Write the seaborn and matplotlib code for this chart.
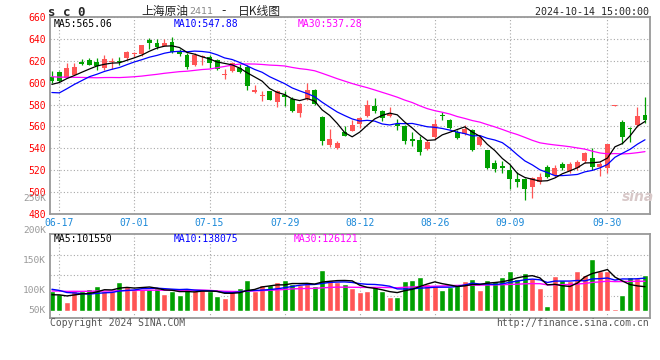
# -*- coding: utf-8 -*-
"""
SC crude oil (2411) daily K-line chart with volume panel, sina style
"""

import numpy as np
import pandas as pd
import seaborn as sns
import matplotlib.pyplot as plt

RED = '#FF5555'
GREEN = '#00A000'

holidays = ['2024-09-16', '2024-09-17', '2024-10-01', '2024-10-02',
            '2024-10-03', '2024-10-04', '2024-10-07']
tick_dates = ['06-17', '07-01', '07-15', '07-29', '08-12', '08-26', '09-09', '09-30']

opens = [605.5, 609.5, 604.6, 607.1, 619.3, 620.8, 619.3, 613.8, 619.0, 620.2,
         622.9, 626.3, 626.2, 639.1, 636.3, 633.8, 637.8, 628.9, 625.2, 616.3,
         623.5, 624.0, 620.6, 607.3, 610.8, 613.8, 614.5, 591.4, 588.0, 592.3,
         582.2, 589.2, 585.5, 572.3, 585.5, 593.8, 568.3, 543.1, 540.0, 555.1,
         556.0, 562.2, 569.2, 579.1, 574.5, 569.2, 562.4, 560.0, 548.8, 547.9,
         539.7, 550.3, 570.3, 566.1, 554.8, 553.3, 556.4, 542.7, 538.2, 526.1,
         523.6, 520.0, 511.5, 511.5, 504.9, 509.4, 523.0, 515.5, 526.0, 519.4,
         522.1, 528.2, 531.2, 522.4, 521.5, 579.0, 563.9, 558.5, 560.9, 570.9]
highs = [610.7, 610.7, 617.7, 617.7, 621.4, 622.9, 622.3, 625.4, 623.0, 623.8,
         629.0, 628.6, 634.8, 640.6, 640.0, 640.0, 641.5, 630.8, 627.7, 627.1,
         625.2, 625.2, 621.5, 612.3, 619.4, 616.9, 616.0, 597.5, 592.9, 592.9,
         593.8, 592.3, 586.8, 581.5, 600.0, 594.5, 569.8, 557.8, 546.2, 560.0,
         566.2, 568.6, 584.6, 586.2, 575.4, 577.8, 567.0, 560.9, 554.8, 550.9,
         547.3, 567.0, 573.0, 567.0, 556.4, 560.9, 557.9, 551.8, 538.8, 529.1,
         528.5, 524.5, 518.5, 512.4, 513.3, 517.0, 524.5, 524.5, 527.6, 527.6,
         529.1, 536.7, 540.6, 527.6, 544.2, 579.3, 566.1, 559.6, 577.6, 587.3]
lows = [599.4, 601.0, 604.0, 607.0, 616.2, 616.0, 611.6, 611.6, 613.0, 616.2,
        620.8, 623.5, 624.6, 631.4, 630.8, 633.5, 627.7, 624.6, 612.9, 615.4,
        616.0, 613.8, 611.7, 603.7, 610.0, 609.2, 593.8, 590.8, 583.1, 584.0,
        577.5, 579.1, 572.9, 568.6, 584.6, 579.4, 543.1, 541.0, 539.1, 550.8,
        555.4, 558.5, 568.6, 572.3, 564.6, 568.6, 557.0, 544.2, 541.8, 533.6,
        538.8, 548.8, 565.5, 557.9, 548.8, 552.4, 537.6, 541.8, 520.6, 518.5,
        517.0, 502.4, 504.2, 492.1, 494.2, 507.3, 512.4, 513.3, 520.0, 517.0,
        520.0, 526.7, 520.0, 514.8, 517.6, 578.9, 543.6, 545.7, 559.4, 563.0]
closes = [601.6, 601.8, 613.8, 614.1, 617.1, 616.2, 615.6, 621.7, 619.5, 618.6,
          627.8, 626.8, 634.5, 636.9, 633.2, 636.3, 628.3, 626.8, 614.5, 625.2,
          624.3, 618.5, 612.9, 607.9, 618.5, 609.8, 596.9, 593.8, 588.5, 584.6,
          592.3, 586.8, 573.8, 580.9, 593.8, 580.9, 546.2, 548.6, 544.6, 551.4,
          561.5, 567.7, 580.0, 573.8, 567.7, 571.7, 560.0, 546.7, 546.7, 536.7,
          545.8, 562.4, 569.7, 558.5, 549.4, 557.9, 538.8, 550.3, 521.5, 520.9,
          521.5, 511.5, 509.4, 502.7, 512.4, 513.3, 513.3, 522.1, 522.1, 525.5,
          527.6, 535.2, 523.0, 525.5, 543.6, 579.3, 550.3, 557.5, 570.0, 565.5]
# volume in thousands of lots
volumes = [82.4, 69.9, 37.7, 86.6, 82.4, 90.8, 103.4, 82.4, 82.4, 120.1,
           106.2, 89.4, 93.6, 93.6, 95.0, 69.9, 82.4, 65.7, 95.0, 86.6,
           86.6, 82.4, 61.5, 54.5, 86.6, 97.8, 128.5, 83.8, 107.6, 107.6,
           120.1, 128.5, 111.8, 107.6, 111.8, 104.8, 170.4, 128.5, 121.5, 114.6,
           96.4, 79.6, 83.8, 100.6, 83.8, 58.7, 58.7, 124.3, 128.5, 142.5,
           111.8, 103.4, 86.6, 100.6, 111.8, 124.3, 132.7, 86.6, 128.5, 124.3,
           141.1, 166.2, 135.5, 157.9, 139.7, 95.0, 19.6, 146.7, 128.5, 124.3,
           166.2, 149.5, 217.9, 167.6, 167.6, 8.4, 67.0, 143.7, 139.5, 150.8]

# sessions before the window, only needed to start the moving averages
closes_before = [612, 615, 618, 620, 622, 619, 616, 618, 621, 617, 614.4,
                 616, 612, 610, 608, 606, 604, 603, 602, 601.2,
                 605, 576, 574, 582, 581, 593, 596, 600, 602]
volumes_before = [78, 85, 72, 90, 81, 76, 88, 70, 84, 79, 86, 74, 82, 91, 77,
                  80, 75, 83, 79, 80, 118, 125, 104, 110, 113, 72, 60, 66, 60]

# values printed in the chart header
price_ma_text = ['MA5:565.06', 'MA10:547.88', 'MA30:537.28']
vol_ma_text = ['MA5:101550', 'MA10:138075', 'MA30:126121']
vol_labels = ['250K', '200K', '150K', '100K', '50K']


def px(x, y):
    return x / 660.0, 1 - y / 360.0


def build_frame():
    days = pd.bdate_range('2024-06-14', '2024-10-14')
    days = days[~days.isin(pd.to_datetime(holidays))]
    df = pd.DataFrame({'date': days, 'open': opens, 'high': highs,
                       'low': lows, 'close': closes, 'vol': volumes})
    df['pos'] = np.arange(len(df))
    df['up'] = np.where(df['close'] >= df['open'], 'up', 'down')
    df['bottom'] = df[['open', 'close']].min(axis=1)
    df['body'] = (df['close'] - df['open']).abs().clip(lower=0.8)
    n_prev = len(closes_before)
    all_close = pd.Series(closes_before + closes)
    all_vol = pd.Series(volumes_before + volumes)
    for n in (5, 10, 30):
        df['ma%d' % n] = all_close.rolling(n).mean().values[n_prev:]
        df['vma%d' % n] = all_vol.rolling(n).mean().values[n_prev:]
    return df


def style_axis(ax):
    for sp in ax.spines.values():
        sp.set_color('#999999')
        sp.set_linewidth(1.3)
    ax.grid(True, ls=(0, (1, 2)), color='#a8a8a8', lw=0.8)
    ax.set_xlabel('')
    ax.set_ylabel('')


def main():
    df = build_frame()
    sns.set_style('white')
    plt.rcParams['font.family'] = ['DejaVu Sans Mono', 'Noto Sans CJK SC']

    fig = plt.figure(figsize=(6.6, 3.6), dpi=100)
    ax_p = fig.add_axes([50 / 660, 1 - 213.7 / 360, 599.5 / 660, 196.4 / 360])
    ax_v = fig.add_axes([50 / 660, 1 - 318 / 360, 599.5 / 660, 83.7 / 360])

    tick_pos = [int(df.index[df['date'].dt.strftime('%m-%d') == d][0]) for d in tick_dates]

    # price panel
    for key, color in (('up', RED), ('down', GREEN)):
        part = df[df['up'] == key]
        ax_p.vlines(part['pos'], part['low'], part['high'], color=color, lw=0.9, zorder=2)
        ax_p.bar(part['pos'], part['body'], bottom=part['bottom'], width=0.66,
                 color=color, lw=0, zorder=3)
    for col, color in (('ma30', '#FF00FF'), ('ma10', '#0000FF'), ('ma5', 'black')):
        sns.lineplot(x=df['pos'], y=df[col], color=color, lw=0.9, ax=ax_p, zorder=4)
    ax_p.set_xlim(-0.25, 79.6)
    ax_p.set_ylim(480, 660)
    ax_p.set_yticks(np.arange(480, 661, 20))
    ax_p.set_xticks(tick_pos)
    ax_p.set_xticklabels(tick_dates)
    ax_p.tick_params(axis='y', length=0, pad=3, labelsize=7, labelcolor='red')
    ax_p.tick_params(axis='x', length=0, pad=3, labelsize=7, labelcolor='#1A88D8')
    style_axis(ax_p)

    # volume panel
    sns.barplot(x=df['pos'], y=df['vol'], hue=df['up'], palette={'up': RED, 'down': GREEN},
                native_scale=True, dodge=False, width=0.8, saturation=1,
                errorbar=None, legend=False, ax=ax_v, zorder=2)
    for col, color in (('vma30', '#FF00FF'), ('vma10', '#0000FF'), ('vma5', 'black')):
        sns.lineplot(x=df['pos'], y=df[col], color=color, lw=1.0, ax=ax_v, zorder=4)
    ax_v.set_xlim(-0.25, 79.6)
    ax_v.set_ylim(-29.3, 321.4)
    ax_v.set_xticks(tick_pos)
    ax_v.set_xticklabels([])
    ax_v.set_yticks([])
    ax_v.tick_params(length=0)
    style_axis(ax_v)
    y0, y1 = ax_v.get_ylim()
    for frac in (0.26, 0.51, 0.755):
        ax_v.axhline(y0 + frac * (y1 - y0), ls=(0, (1, 2)), color='#a8a8a8', lw=0.8, zorder=1)

    # header texts
    fig.text(*px(48, 12), 's c 0', fontsize=9, fontweight='bold', va='center')
    fig.text(*px(141, 11), '上海原油', fontsize=8.5, family=['Noto Sans CJK SC'], va='center')
    fig.text(*px(189, 12), '2411', fontsize=6.8, family=['DejaVu Sans'], color='#888888', va='center')
    fig.text(*px(221, 11), '-', fontsize=8.5, family=['DejaVu Sans'], va='center')
    fig.text(*px(238, 11), '日K线图', fontsize=8.5, family=['Noto Sans CJK SC', 'DejaVu Sans'],
             va='center')
    fig.text(*px(649, 12), '2024-10-14 15:00:00', fontsize=7.2, ha='right', va='center')

    ma_colors = ['black', '#0000FF', '#FF00FF']
    for txt, color, xpix in zip(price_ma_text, ma_colors, (54, 174, 298)):
        fig.text(*px(xpix, 24), txt, fontsize=7, color=color, va='center')
    for txt, color, xpix in zip(vol_ma_text, ma_colors, (54, 174, 294)):
        fig.text(*px(xpix, 238.5), txt, fontsize=7, color=color, va='center')

    for lab, ypix in zip(vol_labels, (198, 230.7, 260.7, 290.7, 310.7)):
        fig.text(*px(46, ypix), lab, fontsize=6.8, color='#999999', ha='right', va='center')

    fig.text(*px(50, 323.5), 'Copyright 2024 SINA.COM', fontsize=7, color='#555555', va='center')
    fig.text(*px(649, 323.5), 'http://finance.sina.com.cn', fontsize=7, color='#555555',
             ha='right', va='center')
    fig.text(*px(622, 197), 'sina', fontsize=10, fontweight='bold', style='italic',
             family=['DejaVu Sans'], color='#d8c8c8', va='center')

    fig.savefig('out.png', dpi=100)


if __name__ == '__main__':
    main()
